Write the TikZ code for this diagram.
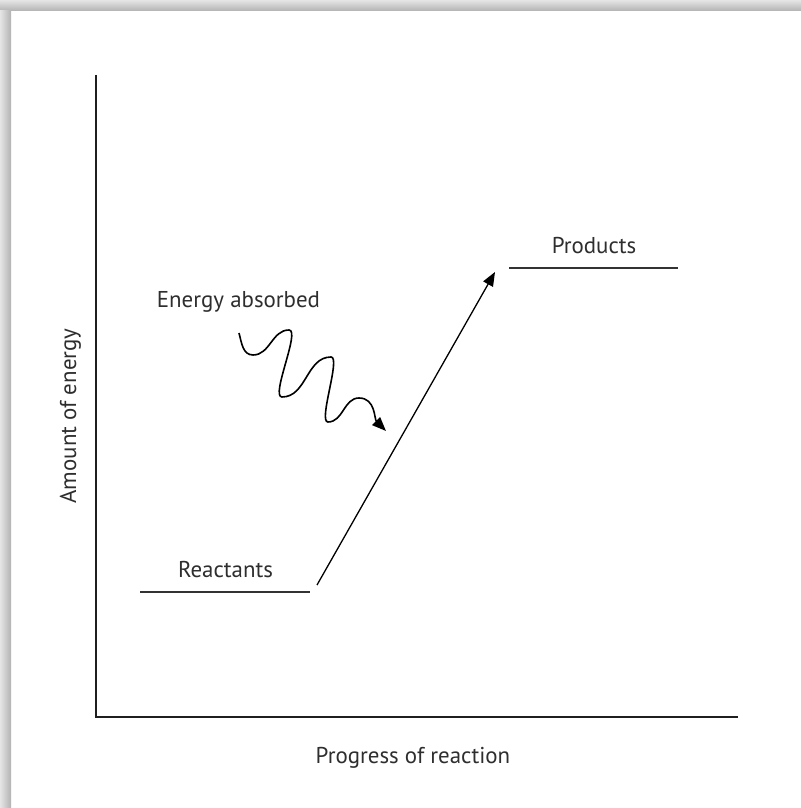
\documentclass[tikz,border=0pt]{standalone}
\usepackage{fontspec}
\setmainfont{PT Sans}
\usetikzlibrary{arrows.meta,scopes}

\begin{document}
\begin{tikzpicture}[
    x=1bp, y=1bp,
    axis/.style={draw=black!88, line width=2.8bp},
    level/.style={draw=black!80, line width=2bp},
    react/.style={>={Triangle[length=14bp,width=11bp]}, draw=black, line width=1.3bp},
    label/.style={font=\fontsize{23}{26}\selectfont, text=black!82, inner sep=0pt, anchor=base},
]
\useasboundingbox (0,0) rectangle (801,808);

%%%
% frame with shadow on top and left
\fill[white] (0,0) rectangle (801,808);
\shade[top color=gray!20, bottom color=gray!60] (0,797) rectangle (801,808);
\shade[left color=gray!20, right color=gray!60] (0,0) rectangle (11,797);

%%%
% axes
\coordinate (origin) at (96,91);
\coordinate (ytop) at (96,733);
\coordinate (xend) at (738,91);
\draw[axis] (ytop) -- (origin) -- (xend);
\node[label, rotate=90] (ylabel) at (76,392) {Amount of energy};
\node[label] (xlabel) at (413,44) {Progress of reaction};

%%%
% energy levels
\coordinate (r1) at (140,216);
\coordinate (r2) at (310,216);
\coordinate (p1) at (509,540);
\coordinate (p2) at (678,540);
\draw[level] (r1) -- (r2);
\draw[level] (p1) -- (p2);
\node[label] (reactants) at (225.5,230) {Reactants};
\node[label] (products) at (594,554) {Products};

% reaction arrow
\draw[react,->] ([shift={(7,7)}]r2) -- ([shift={(-14,-4)}]p1);

%%%
% absorbed energy
\node[label] (absorbed) at (238.5,500) {Energy absorbed};
\coordinate (wstart) at (239,475);
\coordinate (wend) at (386,377);
{[react]
    \draw[->, line width=1.6bp] (wstart)
        to[out=-75,in=180] (253,453)
        to[out=0,in=180] (289,478)
        to[out=0,in=180,looseness=0.45] (282,411)
        to[out=0,in=180] (331,451)
        to[out=0,in=180,looseness=0.4] (328,386)
        to[out=0,in=180] (359,410)
        to[out=0,in=135] (wend);
}
\end{tikzpicture}
\end{document}
